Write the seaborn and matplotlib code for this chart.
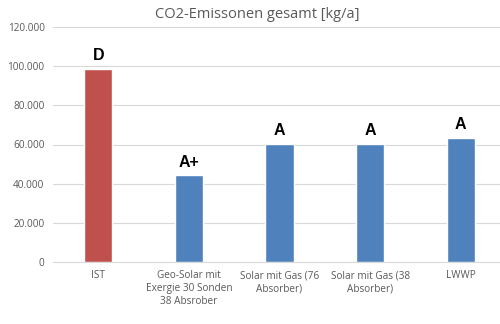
import matplotlib
matplotlib.use("Agg")
import matplotlib.pyplot as plt
import seaborn as sns
import pandas as pd
from matplotlib.ticker import FuncFormatter

categories = ["IST", "Geo-Solar mit\nExergie 30 Sonden\n38 Absrober", "Solar mit Gas (76\nAbsorber)",
              "Solar mit Gas (38\nAbsorber)", "LWWP"]
values = [98700, 44300, 60500, 60500, 63400]
ratings = ["D", "A+", "A", "A", "A"]
bar_colors = ["#C0504D", "#4F81BD", "#4F81BD", "#4F81BD", "#4F81BD"]
yticks = [0, 20000, 40000, 60000, 80000, 100000, 120000]
title = "CO2-Emissonen gesamt [kg/a]"

sns.set_theme(style="white")
plt.rcParams['font.family'] = ['Open Sans', 'DejaVu Sans']

df = pd.DataFrame({"cat": categories, "val": values})
fig = plt.figure(figsize=(5.0, 3.24), dpi=100)
ax = fig.add_axes([53/500, 1-262/324, 453/500, 235/324])
sns.barplot(data=df, x="cat", y="val", hue="cat", palette=bar_colors, legend=False,
            width=0.31, ax=ax, saturation=1, zorder=3)
ax.set_xlim(-0.5, 4.5)
ax.set_ylim(0, 120000)
ax.set_yticks(yticks)
ax.yaxis.set_major_formatter(FuncFormatter(lambda v, p: f"{int(v):,}".replace(",", ".")))
ax.grid(axis="y", color="#D9D9D9", linewidth=0.8, zorder=0)
for s in ["top", "right", "left"]:
    ax.spines[s].set_visible(False)
ax.spines["bottom"].set_color("#D9D9D9")
ax.spines["bottom"].set_linewidth(0.8)
ax.tick_params(axis="both", length=0, colors="#595959", labelsize=7.2, pad=6)
ax.set_xlabel("")
ax.set_ylabel("")
for lbl in ax.get_xticklabels():
    lbl.set_linespacing(1.25)
for i, (v, r) in enumerate(zip(values, ratings)):
    ax.text(i, v + 2800, r, ha="center", va="bottom", fontsize=11.5, fontweight="bold",
            family="Liberation Sans", color="black")
fig.text(257/500, 1-14/324, title, ha="center", va="center", fontsize=10.5, color="#595959")
fig.savefig("out.png", dpi=100)
